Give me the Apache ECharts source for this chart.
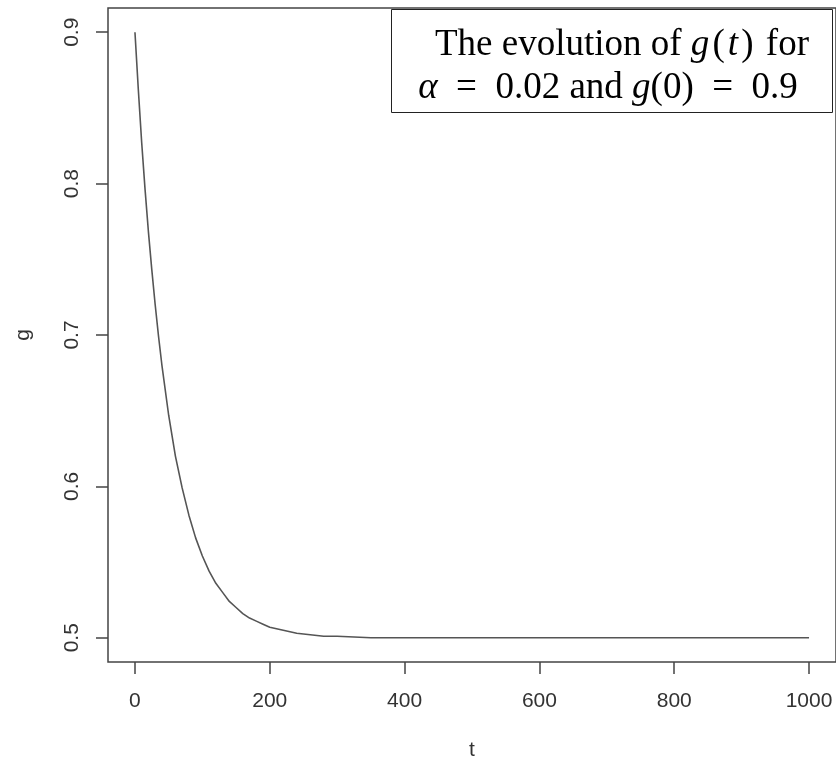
<!DOCTYPE html>
<html>
<head>
<meta charset="utf-8">
<script src="https://cdn.jsdelivr.net/npm/echarts@6/dist/echarts.min.js"></script>
<style>html,body{margin:0;padding:0;background:#fff;}#c{width:836px;height:760px;}</style>
</head>
<body>
<div id="c"></div>
<script>
const tValues = [0,5,10,15,20,25,30,35,40,50,60,70,80,90,100,110,120,130,140,150,160,170,180,190,200,220,240,260,280,300,350,400,500,600,700,800,900,1000];
const gValues = [0.900,0.862,0.827,0.796,0.768,0.743,0.720,0.699,0.680,0.647,0.620,0.599,0.581,0.566,0.554,0.544,0.536,0.530,0.524,0.520,0.516,0.513,0.511,0.509,0.507,0.505,0.503,0.502,0.501,0.501,0.500,0.500,0.500,0.500,0.500,0.500,0.500,0.500];
const xTicks = [0,200,400,600,800,1000];
const yTicks = [0.5,0.6,0.7,0.8,0.9];

const chart = echarts.init(document.getElementById('c'), null, {renderer:'canvas'});
const lab = {fontFamily:'Liberation Sans, Arial, sans-serif', fontSize:21, color:'#333'};
const hs = '\u200A';
chart.setOption({
  animation:false,
  backgroundColor:'#fff',
  grid:{left:108, right:0, top:8, bottom:98, outerBoundsMode:'none', containLabel:false, show:true, borderColor:'#444', borderWidth:1.5, backgroundColor:'transparent'},
  xAxis:{
    type:'value', min:-40, max:1040,
    name:'t', nameLocation:'middle', nameGap:78,
    nameTextStyle:lab,
    axisLine:{show:false, onZero:false},
    splitLine:{show:false},
    axisTick:{show:true, inside:false, length:12, customValues:xTicks, lineStyle:{color:'#444', width:1.5}},
    axisLabel:Object.assign({customValues:xTicks, margin:29, formatter:v=>String(v)}, lab)
  },
  yAxis:{
    type:'value', min:0.484, max:0.916,
    name:'g', nameLocation:'middle', nameGap:74, nameRotate:90,
    nameTextStyle:lab,
    axisLine:{show:false, onZero:false},
    splitLine:{show:false},
    axisTick:{show:true, inside:false, length:12, customValues:yTicks, lineStyle:{color:'#444', width:1.5}},
    axisLabel:Object.assign({customValues:yTicks, rotate:90, margin:25, formatter:v=>v.toFixed(1)}, lab)
  },
  series:[{
    type:'line',
    data:tValues.map((t,i)=>[t,gValues[i]]),
    showSymbol:false, smooth:false,
    lineStyle:{color:'#555', width:1.6}
  }],
  graphic:[
    {type:'rect', left:391, top:9, shape:{width:441, height:103}, style:{fill:'#fff', stroke:'#222', lineWidth:1}, z:100},
    {type:'text', x:622, y:45, z:101, style:{
      text:'The evolution of {i|g}' + hs + '(' + hs + '{i|t}' + hs + ')' + hs + ' for', rich:{i:{fontStyle:'italic', fontFamily:'Liberation Serif, serif', fontSize:37, fill:'#000'}},
      fontFamily:'Liberation Serif, Times New Roman, serif', fontSize:37, fill:'#000', align:'center', verticalAlign:'middle'}},
    {type:'text', x:608, y:88, z:101, style:{
      text:'{i|α}  =  0.02 and {i|g}(0)  =  0.9', rich:{i:{fontStyle:'italic', fontFamily:'Liberation Serif, serif', fontSize:37, fill:'#000'}},
      fontFamily:'Liberation Serif, Times New Roman, serif', fontSize:37, fill:'#000', align:'center', verticalAlign:'middle'}}
  ]
});
</script>
</body>
</html>
